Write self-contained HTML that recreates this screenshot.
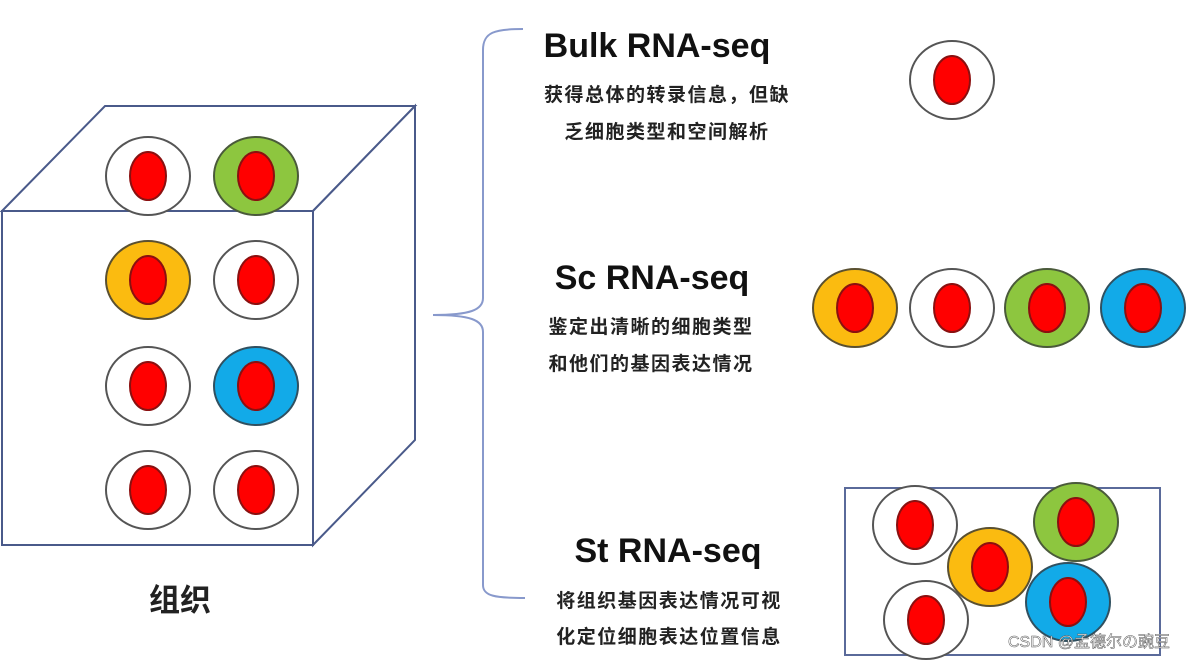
<!DOCTYPE html>
<html><head><meta charset="utf-8"><style>
html,body{margin:0;padding:0;background:#fff;}
svg{display:block;}
.t{font-family:"Liberation Sans",sans-serif;font-weight:bold;fill:#111;}
.c{font-family:"Liberation Sans","Noto Sans CJK SC",sans-serif;font-weight:bold;fill:#222;}
</style></head><body>
<svg width="1186" height="661" viewBox="0 0 1186 661" xmlns="http://www.w3.org/2000/svg">
<defs>
<g id="w"><ellipse rx="42" ry="39" fill="#fff" stroke="#555" stroke-width="2"/><ellipse rx="18" ry="24" fill="#f00" stroke="#8a1010" stroke-width="2"/></g>
<g id="g"><ellipse rx="42" ry="39" fill="#8dc63f" stroke="#4a5a3a" stroke-width="2"/><ellipse rx="18" ry="24" fill="#f00" stroke="#8a1010" stroke-width="2"/></g>
<g id="o"><ellipse rx="42" ry="39" fill="#fbbb10" stroke="#5a5030" stroke-width="2"/><ellipse rx="18" ry="24" fill="#f00" stroke="#8a1010" stroke-width="2"/></g>
<g id="b"><ellipse rx="42" ry="39" fill="#12aae8" stroke="#305060" stroke-width="2"/><ellipse rx="18" ry="24" fill="#f00" stroke="#8a1010" stroke-width="2"/></g>
</defs>
<g fill="none" stroke="#4a5a8a" stroke-width="2">
<polygon points="2,211 105,106 415,106 313,211" fill="#fff"/>
<polygon points="313,211 415,106 415,440 313,545" fill="#fff"/>
<rect x="2" y="211" width="311" height="334" fill="#fff"/>
</g>
<use href="#w" x="148" y="176"/><use href="#g" x="256" y="176"/>
<use href="#o" x="148" y="280"/><use href="#w" x="256" y="280"/>
<use href="#w" x="148" y="386"/><use href="#b" x="256" y="386"/>
<use href="#w" x="148" y="490"/><use href="#w" x="256" y="490"/>
<text class="c" x="180" y="611" font-size="31" text-anchor="middle">组织</text>
<path d="M523,29 C495,29 483,32 483,50 L483,298 C483,310 470,315 433,315 C470,315 483,320 483,332 L483,585 C483,596 495,598 525,598" fill="none" stroke="#8899cc" stroke-width="2"/>
<text class="t" x="657" y="57" font-size="34" text-anchor="middle">Bulk RNA-seq</text>
<text class="c" x="667" y="101" font-size="19" text-anchor="middle" letter-spacing="1.5">获得总体的转录信息，但缺</text>
<text class="c" x="667" y="138" font-size="19" text-anchor="middle" letter-spacing="1.5">乏细胞类型和空间解析</text>
<text class="t" x="652" y="289" font-size="34" text-anchor="middle">Sc RNA-seq</text>
<text class="c" x="651" y="333" font-size="19" text-anchor="middle" letter-spacing="1.5">鉴定出清晰的细胞类型</text>
<text class="c" x="651" y="370" font-size="19" text-anchor="middle" letter-spacing="1.5">和他们的基因表达情况</text>
<text class="t" x="668" y="562" font-size="34" text-anchor="middle">St RNA-seq</text>
<text class="c" x="669" y="607" font-size="19" text-anchor="middle" letter-spacing="1.5">将组织基因表达情况可视</text>
<text class="c" x="669" y="643" font-size="19" text-anchor="middle" letter-spacing="1.5">化定位细胞表达位置信息</text>
<use href="#w" x="952" y="80"/>
<use href="#o" x="855" y="308"/><use href="#w" x="952" y="308"/><use href="#g" x="1047" y="308"/><use href="#b" x="1143" y="308"/>
<rect x="845" y="488" width="315" height="167" fill="#fff" stroke="#5a6a9a" stroke-width="2"/>
<use href="#w" x="915" y="525"/>
<use href="#g" x="1076" y="522"/>
<use href="#o" x="990" y="567"/>
<use href="#b" x="1068" y="602"/>
<use href="#w" x="926" y="620"/>
<text x="1170" y="647" font-family="Liberation Sans,'Noto Sans CJK SC',sans-serif" font-size="16" fill="#fff" stroke="#555" stroke-width="0.5" text-anchor="end">CSDN @孟德尔の豌豆</text>
</svg>
</body></html>
